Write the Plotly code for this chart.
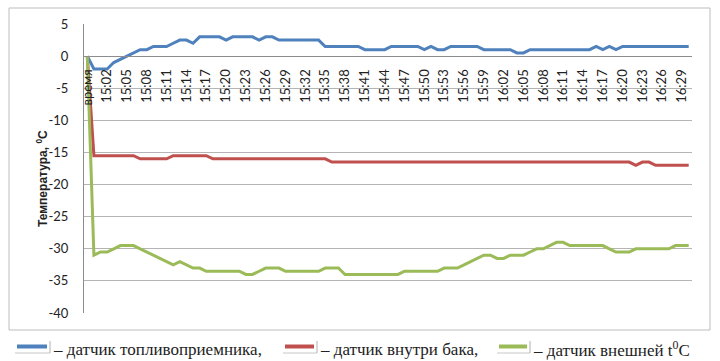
import plotly.graph_objects as go

# Categories: header cell, then one reading per minute 15:00 ... 16:30
categories = ["время"] + [f"{h}:{m:02d}" for h, m in
                          [(15 + k // 60, k % 60) for k in range(0, 91)]]

# Fuel intake sensor
intake = [0, -2, -2, -2, -1, -0.5, 0, 0.5, 1, 1,
          1.5, 1.5, 1.5, 2, 2.5, 2.5, 2, 3, 3, 3,
          3, 2.5, 3, 3, 3, 3, 2.5, 3, 3, 2.5,
          2.5, 2.5, 2.5, 2.5, 2.5, 2.5, 1.5, 1.5, 1.5, 1.5,
          1.5, 1.5, 1, 1, 1, 1, 1.5, 1.5, 1.5, 1.5,
          1.5, 1, 1.5, 1, 1, 1.5, 1.5, 1.5, 1.5, 1.5,
          1, 1, 1, 1, 1, 0.5, 0.5, 1, 1, 1,
          1, 1, 1, 1, 1, 1, 1, 1.5, 1, 1.5,
          1, 1.5, 1.5, 1.5, 1.5, 1.5, 1.5, 1.5, 1.5, 1.5,
          1.5, 1.5]

# Sensor inside the tank
tank = ([0] + [-15.5] * 7 + [-16] * 5 + [-15.5] * 6 + [-16] * 18
        + [-16.5] * 46 + [-17] + [-16.5] * 2 + [-17] * 6)

# Outside temperature sensor
outside = ([0, -31, -30.5, -30.5, -30, -29.5, -29.5, -29.5, -30, -30.5,
            -31, -31.5, -32, -32.5, -32, -32.5, -33, -33]
           + [-33.5] * 6 + [-34, -34, -33.5] + [-33] * 3 + [-33.5] * 6
           + [-33] * 3 + [-34] * 9 + [-33.5] * 6 + [-33] * 3
           + [-32.5, -32, -31.5, -31, -31, -31.5, -31.5]
           + [-31] * 3 + [-30.5, -30, -30, -29.5, -29, -29]
           + [-29.5] * 6 + [-30, -30.5, -30.5, -30.5] + [-30] * 6
           + [-29.5] * 3)

y_ticks = [5, 0, -5, -10, -15, -20, -25, -30, -35, -40]
y_tick_text = [str(v) for v in y_ticks]

series = [
    ("датчик топливоприемника", intake, "#4F81BD"),
    ("датчик внутри бака", tank, "#C0504D"),
    ("датчик внешней t", outside, "#9BBB59"),
]

W, H = 720, 361
L, R, T, B = 84, 692, 24, 313
SERIF = "Liberation Serif"


def px(x):
    return (x - L) / (R - L)


def py(y):
    return (B - y) / (B - T)


fig = go.Figure()
for name, vals, color in series:
    fig.add_trace(go.Scatter(x=categories, y=vals, mode="lines", name=name,
                             line=dict(color=color, width=3),
                             showlegend=False))

y_min, y_max = -40, 5
fig.update_layout(
    width=W, height=H,
    margin=dict(l=L, r=W - R, t=T, b=H - B, pad=0),
    paper_bgcolor="white", plot_bgcolor="white",
    font=dict(family="Lato, Liberation Sans, sans-serif", color="#222"),
    xaxis=dict(
        type="category", range=[-0.5, len(categories) - 0.5],
        anchor="free", position=(0 - y_min) / (y_max - y_min),
        tickmode="array", tickvals=categories[::3], ticktext=categories[::3],
        tickangle=-90, tickfont=dict(size=13, color="#222"),
        showline=True, linecolor="#8c8c8c", linewidth=1,
        ticks="outside", ticklen=7, tickcolor="rgba(0,0,0,0)",
        showgrid=False, zeroline=False,
    ),
    yaxis=dict(
        range=[y_min, y_max], tickmode="array", tickvals=y_ticks,
        ticktext=y_tick_text, tickfont=dict(size=13, color="#222"),
        showgrid=True, gridcolor="#b4b4b4", gridwidth=1,
        showline=True, linecolor="#8c8c8c", linewidth=1,
        zeroline=False, ticks="", ticklabelstandoff=12,
    ),
)

shapes = [
    # chart frame
    dict(type="rect", xref="paper", yref="paper",
         x0=px(9), x1=px(710), y0=py(330), y1=py(8),
         line=dict(color="#bdbdbd", width=1), layer="below"),
]
annotations = [
    dict(text="<b>Температура, <sup>0</sup>C</b>", xref="paper", yref="paper",
         x=px(42), y=py(178), textangle=-90, showarrow=False,
         font=dict(size=12, family="Liberation Sans, sans-serif", color="#222"),
         xanchor="center", yanchor="middle"),
]

# legend row under the frame
legend_items = [
    (15, 50, "– датчик топливоприемника,", "#4F81BD"),
    (283, 317, "– датчик внутри бака,", "#C0504D"),
    (497, 530, "– датчик внешней t<sup>0</sup>C", "#9BBB59"),
]
for x0, x1, label, color in legend_items:
    shapes.append(dict(type="line", xref="paper", yref="paper",
                       x0=px(x0), x1=px(x1), y0=py(353), y1=py(353),
                       line=dict(color="#c8c8c8", width=1)))
    shapes.append(dict(type="line", xref="paper", yref="paper",
                       x0=px(x1), x1=px(x1), y0=py(341), y1=py(353),
                       line=dict(color="#b0b0b0", width=1)))
    shapes.append(dict(type="line", xref="paper", yref="paper",
                       x0=px(x0 + 2), x1=px(x1 - 3), y0=py(346.5), y1=py(346.5),
                       line=dict(color=color, width=4)))
    annotations.append(dict(text=label, xref="paper", yref="paper",
                            x=px(x1 + 1), y=py(349), showarrow=False,
                            xanchor="left", yanchor="middle",
                            font=dict(size=17, family=SERIF, color="#222")))

fig.update_layout(shapes=shapes, annotations=annotations)
fig.write_html("out.html")
